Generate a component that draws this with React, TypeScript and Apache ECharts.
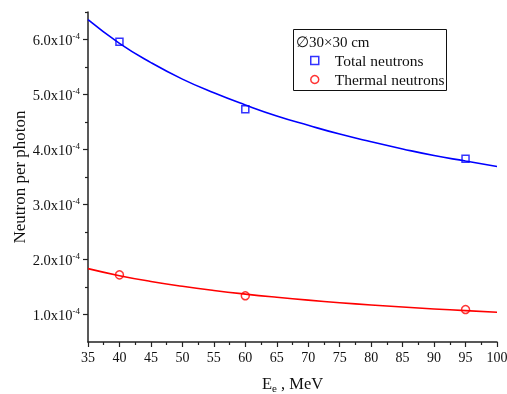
import React, { useEffect, useRef } from "react";
import * as echarts from "echarts";

// values in units of 1e-4 neutrons per photon
const pointEnergies = [40, 60, 95];
const totalPoints = [5.96, 4.73, 3.83];
const thermalPoints = [1.72, 1.34, 1.09];

const fitEnergies = [35, 40, 45, 50, 55, 60, 65, 70, 75, 80, 85, 90, 95, 100];
const totalFit = [6.36, 5.93, 5.58, 5.28, 5.03, 4.81, 4.61, 4.44, 4.28, 4.14, 4.01, 3.89, 3.79, 3.69];
const thermalFit = [1.834, 1.706, 1.601, 1.513, 1.437, 1.371, 1.313, 1.261, 1.215, 1.174, 1.136, 1.101, 1.07, 1.04];

const yMajorTicks = [1, 2, 3, 4, 5, 6];
const yMinorTicks = [1.5, 2.5, 3.5, 4.5, 5.5, 6.5];
const yExponent = "-4";

const FONT = "'Liberation Serif', 'Times New Roman', serif";

export default function App() {
  const ref = useRef<HTMLDivElement>(null);
  useEffect(() => {
    document.body.style.margin = "0";
    const chart = echarts.init(ref.current!, undefined, { renderer: "svg" });
    const pair = (xs: number[], ys: number[]) => xs.map((x, i) => [x, ys[i]]);
    chart.setOption({
      animation: false,
      textStyle: { fontFamily: FONT },
      grid: { left: 88, right: 10, top: 12, bottom: 52, outerBoundsMode: "none", containLabel: false },
      xAxis: {
        type: "value",
        min: 35,
        max: 100,
        interval: 5,
        name: "{a|E}{s|e}{a| , MeV}",
        nameLocation: "middle",
        nameGap: 32,
        nameMoveOverlap: false,
        nameTextStyle: {
          rich: {
            a: { fontSize: 16.5, fontFamily: FONT, color: "#111" },
            s: { fontSize: 11, fontFamily: FONT, color: "#111", padding: [8, 0, 0, 0] },
          },
        },
        axisLine: { lineStyle: { color: "#222", width: 1.5 } },
        axisTick: { length: 5, lineStyle: { color: "#222", width: 1.2 } },
        minorTick: { show: true, splitNumber: 2, length: 3, lineStyle: { color: "#222", width: 1.2 } },
        axisLabel: { fontSize: 14, fontFamily: FONT, color: "#111", margin: 8 },
        splitLine: { show: false },
      },
      yAxis: [
        {
          type: "value",
          min: 0.5,
          max: 6.5,
          name: "Neutron per photon",
          nameLocation: "middle",
          nameGap: 60,
          nameMoveOverlap: false,
          nameTextStyle: { fontSize: 17, fontFamily: FONT, color: "#111" },
          axisLine: { show: true, lineStyle: { color: "#222", width: 1.5 } },
          axisTick: { show: true, length: 5, customValues: yMajorTicks, lineStyle: { color: "#222", width: 1.2 } },
          axisLabel: {
            customValues: yMajorTicks,
            margin: 8,
            formatter: (v: number) => `{b|${v.toFixed(1)}x10}{s|${yExponent}}`,
            rich: {
              b: { fontSize: 14.5, fontFamily: FONT, color: "#111" },
              s: { fontSize: 9, fontFamily: FONT, color: "#111", padding: [0, 0, 8, 0] },
            },
          },
          splitLine: { show: false },
        },
        {
          type: "value",
          min: 0.5,
          max: 6.5,
          position: "left",
          axisLine: { show: false },
          axisTick: { show: true, length: 3, customValues: yMinorTicks, lineStyle: { color: "#222", width: 1.2 } },
          axisLabel: { show: false },
          splitLine: { show: false },
        },
      ],
      legend: {
        orient: "vertical",
        left: 305,
        top: 46,
        itemGap: 0,
        itemWidth: 8,
        itemHeight: 8,
        textStyle: { fontSize: 15.5, fontFamily: FONT, color: "#111", lineHeight: 19, padding: [0, 0, 0, 11] },
        data: [
          { name: "Total neutrons", icon: "rect", itemStyle: { color: "rgba(0,0,0,0)", borderColor: "#0000ff", borderWidth: 1.5 } },
          { name: "Thermal neutrons", icon: "circle", itemStyle: { color: "rgba(0,0,0,0)", borderColor: "#ff0000", borderWidth: 1.5 } },
        ],
      },
      graphic: [
        { type: "rect", shape: { x: 293.5, y: 29.5, width: 153, height: 61 }, style: { fill: "none", stroke: "#111", lineWidth: 1 }, z: 10 },
        { type: "text", x: 296, y: 42, style: { text: "\u220530\u00d730 cm", fontSize: 15, fontFamily: FONT, fill: "#111", verticalAlign: "middle" }, z: 10 },
      ],
      series: [
        {
          name: "Total fit",
          type: "line",
          data: pair(fitEnergies, totalFit),
          smooth: true,
          showSymbol: false,
          lineStyle: { color: "#0000ff", width: 1.6 },
          itemStyle: { color: "#0000ff" },
        },
        {
          name: "Thermal fit",
          type: "line",
          data: pair(fitEnergies, thermalFit),
          smooth: true,
          showSymbol: false,
          lineStyle: { color: "#ff0000", width: 1.6 },
          itemStyle: { color: "#ff0000" },
        },
        {
          name: "Total neutrons",
          type: "scatter",
          symbol: "rect",
          symbolSize: 7,
          data: pair(pointEnergies, totalPoints),
          itemStyle: { color: "rgba(0,0,0,0)", borderColor: "#0000ff", borderWidth: 1.5 },
          z: 5,
        },
        {
          name: "Thermal neutrons",
          type: "scatter",
          symbol: "circle",
          symbolSize: 8,
          data: pair(pointEnergies, thermalPoints),
          itemStyle: { color: "rgba(0,0,0,0)", borderColor: "#ff0000", borderWidth: 1.5 },
          z: 5,
        },
      ],
    });
    return () => chart.dispose();
  }, []);
  return <div ref={ref} style={{ width: 507, height: 394, position: "fixed", left: 0, top: 0 }} />;
}
